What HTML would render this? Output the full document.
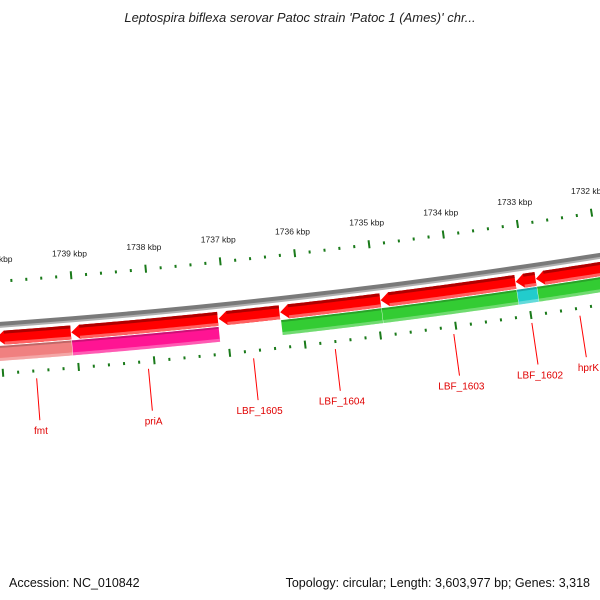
<!DOCTYPE html>
<html><head><meta charset="utf-8"><style>
body{margin:0;background:#fff}
svg{display:block}
text{font-family:"Liberation Sans",sans-serif}
</style></head><body>
<svg id="c" width="600" height="600" viewBox="0 0 600 600" xmlns="http://www.w3.org/2000/svg">
<text x="300" y="22" text-anchor="middle" font-size="13" font-style="italic" fill="#222">Leptospira biflexa serovar Patoc strain 'Patoc 1 (Ames)' chr...</text>
<text x="9" y="587" font-size="12.5" fill="#111">Accession: NC_010842</text>
<text x="590" y="587" text-anchor="end" font-size="12.5" fill="#111">Topology: circular; Length: 3,603,977 bp; Genes: 3,318</text>
<g id="plot"></g>
</svg>
<script>
const geneNames = ["fmt","priA","LBF_1605","LBF_1604","LBF_1603","LBF_1602","hprK"];
const geneStarts = [1740060,1739060,1737100,1736280,1734940,1733135,1732865];
const geneEnds   = [1739066,1737111,1736290,1734945,1733140,1732870,1731861];
const cogColors  = ["#f08080","#ff1493",null,"#33cc33","#33cc33","#22cccc","#33cc33"];
const tickStart = 1731000, tickEnd = 1741000, tickStep = 200, majorStep = 1000;

const NS="http://www.w3.org/2000/svg";
const cx=-506, cy=-6721;
function ang(bp){return 1.4885+(bp-1739000)*1.067e-5;}
function pt(bp,r){const a=ang(bp);return [cx+r*Math.cos(a),cy+r*Math.sin(a)];}
const plot=document.getElementById('plot');
function mk(tag,attrs,parent){const e=document.createElementNS(NS,tag);for(const k in attrs)e.setAttribute(k,attrs[k]);(parent||plot).appendChild(e);return e;}
function band(a,b,r1,r2){ // a > b in bp
  const pts=[];const n=40;
  for(let i=0;i<=n;i++){pts.push(pt(a+(b-a)*i/n,r1));}
  for(let i=n;i>=0;i--){pts.push(pt(a+(b-a)*i/n,r2));}
  return pts.map(p=>p[0].toFixed(2)+','+p[1].toFixed(2)).join(' ');
}
function arrow(a,b,r1,r2,head){
  const pts=[];const n=40;const ah=a-head;
  pts.push(pt(a,(r1+r2)/2));
  for(let i=0;i<=n;i++)pts.push(pt(ah+(b-ah)*i/n,r1));
  for(let i=n;i>=0;i--)pts.push(pt(ah+(b-ah)*i/n,r2));
  return pts.map(p=>p[0].toFixed(2)+','+p[1].toFixed(2)).join(' ');
}
// backbone
let bb=mk('polygon',{points:band(1741500,1730500,7061,7066),fill:'#7a7a7a'});


let bb2=mk('polygon',{points:band(1741500,1730500,7065,7067),fill:'#b0b0b0'});


// ticks
for(let bp=tickStart;bp<=tickEnd;bp+=tickStep){
  const major=bp%majorStep===0;
  const [o1,o2]=major?[7016,7024]:[7019,7022];
  const [i1,i2]=major?[7108,7116]:[7111,7114];
  const p1=pt(bp,o1),p2=pt(bp,o2);
  let t=mk('line',{x1:p1[0],y1:p1[1],x2:p2[0],y2:p2[1],stroke:'#1a7a1a','stroke-width':major?2:2});
  
  
  const q1=pt(bp,i1),q2=pt(bp,i2);
  let t2=mk('line',{x1:q1[0],y1:q1[1],x2:q2[0],y2:q2[1],stroke:'#1a7a1a','stroke-width':2});
  
  
  if(major){
    const lp=pt(bp,7001);
    let tl=mk('text',{x:lp[0],y:lp[1],'text-anchor':'middle','font-size':'8.5',fill:'#222'});
    tl.textContent=(bp/1000)+' kbp';
    
    
  }
}
// genes
for(let i=0;i<geneNames.length;i++){
  const a=geneStarts[i],b=geneEnds[i];
  if(cogColors[i]){
    let g=mk('polygon',{points:band(a,b,7085,7100),fill:cogColors[i]});
    
    
    let gt=mk('polygon',{points:band(a,b,7085,7087),fill:'#000',opacity:0.2});
    
    
    let gb=mk('polygon',{points:band(a,b,7097,7100),fill:'#fff',opacity:0.3});
    
    
  }
  let r=mk('polygon',{points:arrow(a,b,7070,7084,110),fill:'#ff0000'});
  
  
  let rt=mk('polygon',{points:band(a-110,b,7070,7073),fill:'#b00000'});
  
  
  let rb=mk('polygon',{points:band(a-110,b,7081,7084),fill:'#ff6060'});
  
  
  const mid=(a+b)/2;
  const l1=pt(mid,7120),l2=pt(mid,7162),lt=pt(mid,7176);
  let ln=mk('line',{x1:l1[0],y1:l1[1],x2:l2[0],y2:l2[1],stroke:'#ff0000','stroke-width':1});
  
  
  let tx=mk('text',{x:lt[0],y:lt[1],'text-anchor':'middle','font-size':'10',fill:'#e00000'});
  tx.textContent=geneNames[i];
  
  
}
</script>
</body></html>
